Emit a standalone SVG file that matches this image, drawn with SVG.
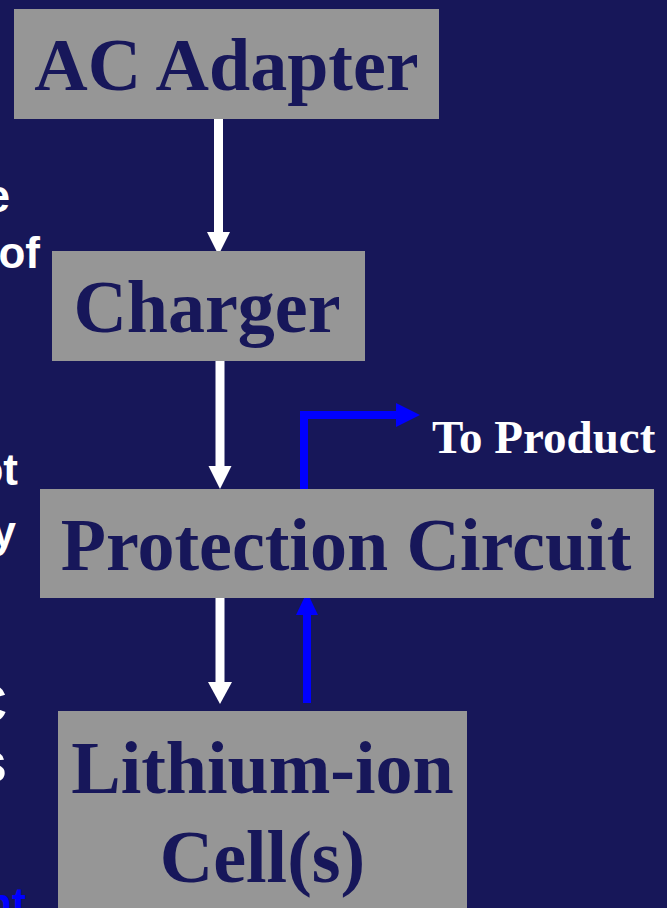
<svg xmlns="http://www.w3.org/2000/svg" width="667" height="908" viewBox="0 0 667 908">
<style>
.box{fill:#969696}
.lbl{font-family:"Liberation Serif","Times New Roman",serif;font-weight:bold;font-size:74px;fill:#17175A;text-anchor:middle}
.side{font-family:"Liberation Sans",Arial,sans-serif;font-weight:bold;fill:#FFFFFF;text-anchor:end}
.w{stroke:#FFFFFF;stroke-width:9;fill:none}
.wh{fill:#FFFFFF}
.b{stroke:#0000FF;stroke-width:8;fill:none}
.bh{fill:#0000FF}
</style>
<rect x="0" y="0" width="667" height="908" fill="#171759"/>
<g id="side-text">
<text class="side" x="10" y="212" font-size="46">e</text>
<text class="side" x="40" y="268" font-size="44">of</text>
<text class="side" x="18" y="485" font-size="44">ot</text>
<text class="side" x="16" y="547" font-size="44">y</text>
<text class="side" x="7" y="722" font-size="54">C</text>
<text class="side" x="7" y="782" font-size="58">s</text>
<text class="side" x="26" y="918" font-size="42" style="fill:#0000FF">nt</text>
</g>
<g id="connectors">
<line class="w" x1="218.5" y1="116" x2="218.5" y2="233"/>
<polygon class="wh" points="207,232 230,232 218.5,255"/>
<line class="w" x1="220" y1="361" x2="220" y2="467"/>
<polygon class="wh" points="208.5,466 231.5,466 220,489"/>
<line class="w" x1="220" y1="593" x2="220" y2="683"/>
<polygon class="wh" points="208,682 232,682 220,704"/>
<line class="b" x1="307" y1="703" x2="307" y2="614"/>
<polygon class="bh" points="296,615 318,615 307,592"/>
<polyline class="b" points="304,490 304,415 397,415"/>
<polygon class="bh" points="396,403 396,427 420,415"/>
<text x="432" y="453" font-family="Liberation Serif,'Times New Roman',serif" font-weight="bold" font-size="47" fill="#FFFFFF">To Product</text>
</g>
<g id="ac-adapter">
<rect class="box" x="14" y="9" width="425" height="110"/>
<text class="lbl" x="226.5" y="90">AC Adapter</text>
</g>
<g id="charger">
<rect class="box" x="52" y="251" width="313" height="110"/>
<text class="lbl" x="207" y="332">Charger</text>
</g>
<g id="protection-circuit">
<rect class="box" x="40" y="489" width="614" height="109"/>
<text class="lbl" x="346" y="570">Protection Circuit</text>
</g>
<g id="lithium-ion-cells">
<rect class="box" x="58" y="711" width="409" height="205"/>
<text class="lbl" x="262.5" y="793">Lithium-ion</text>
<text class="lbl" x="262.5" y="882">Cell(s)</text>
</g>
</svg>
